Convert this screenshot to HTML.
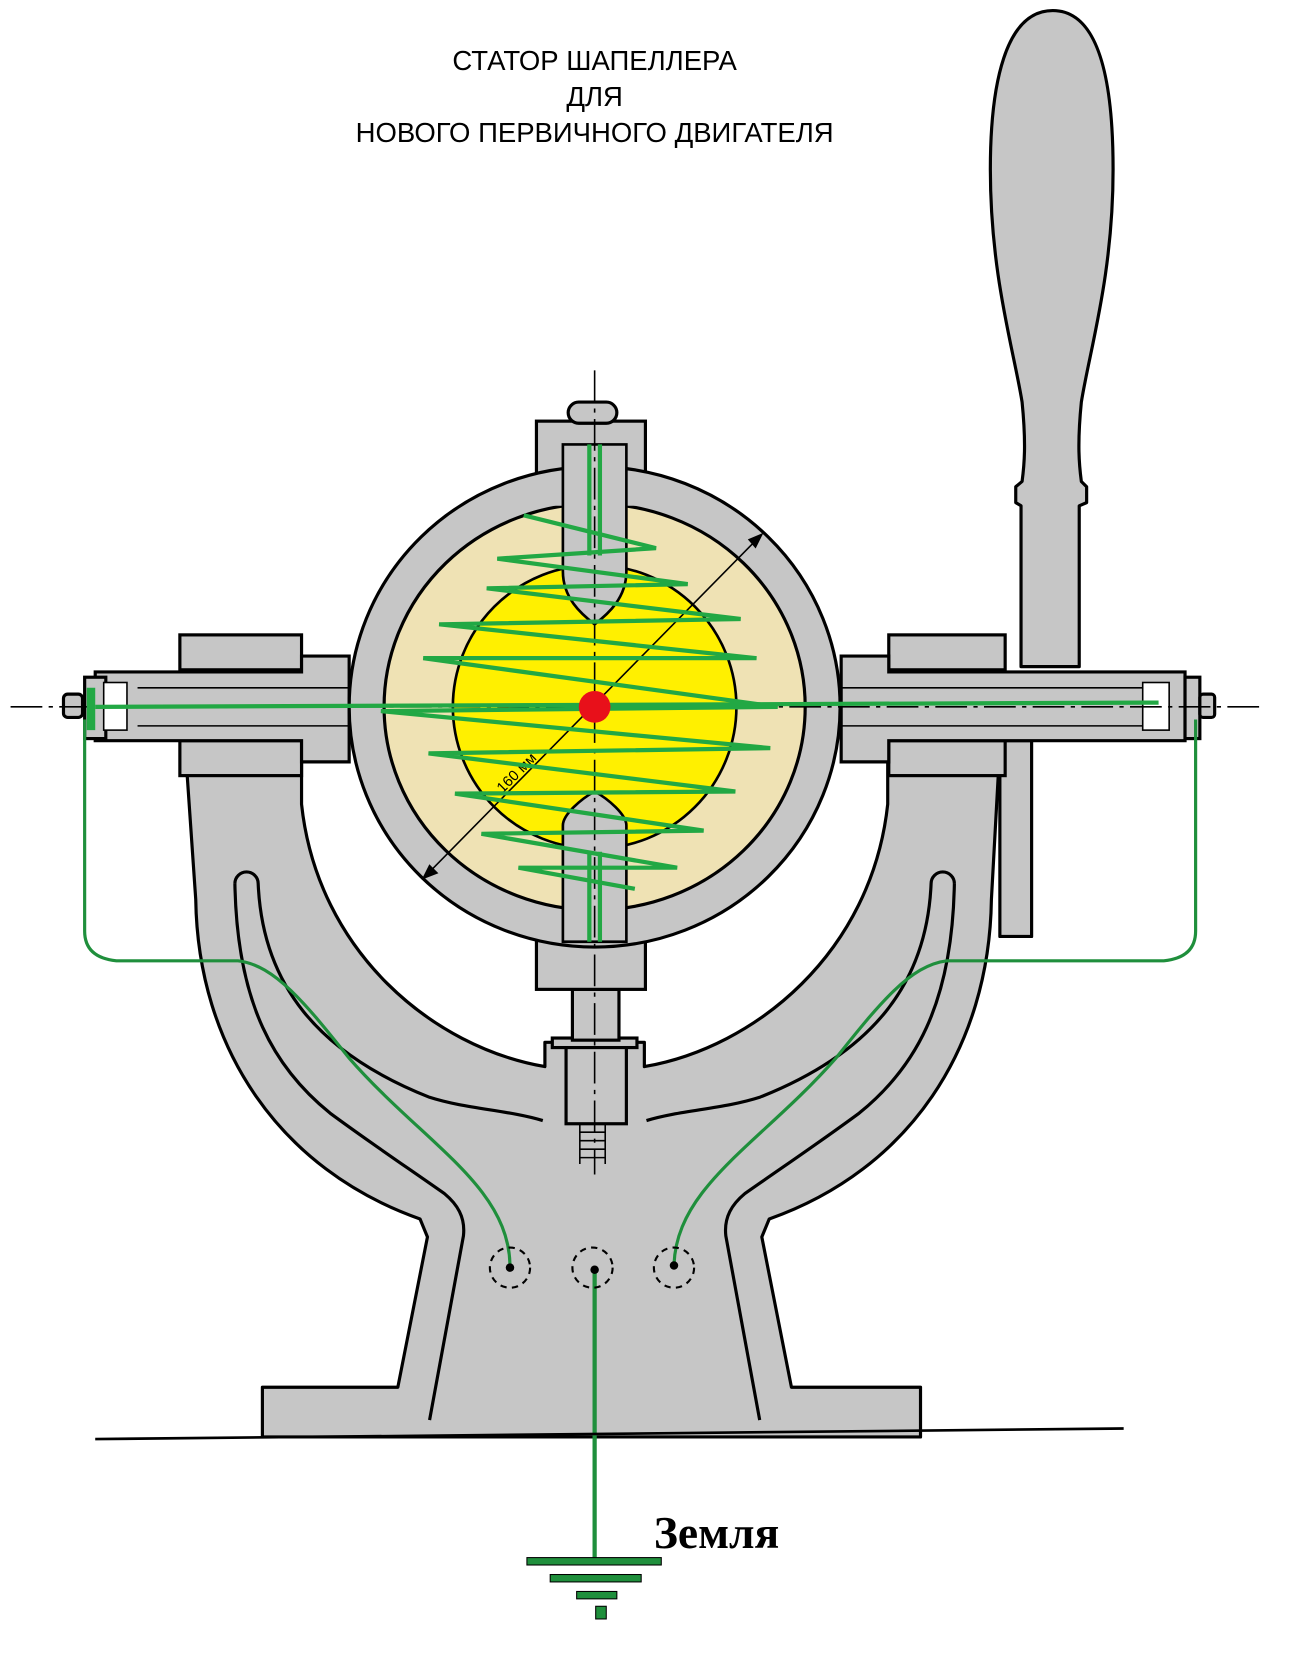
<!DOCTYPE html>
<html><head><meta charset="utf-8"><style>
html,body{margin:0;padding:0;background:#fff;}
svg{display:block;}
</style></head><body>
<svg width="1312" height="1656" viewBox="0 0 1240 1565" preserveAspectRatio="none" xmlns="http://www.w3.org/2000/svg">
<rect width="1240" height="1565" fill="#fff"/>
<g font-family="Liberation Sans, sans-serif" font-size="26" text-anchor="middle" fill="#000">
<text x="562" y="66">СТАТОР ШАПЕЛЛЕРА</text>
<text x="562" y="100">ДЛЯ</text>
<text x="562" y="134">НОВОГО ПЕРВИЧНОГО ДВИГАТЕЛЯ</text>
</g>
<g stroke="#000" stroke-width="3" fill="#c6c6c6" stroke-linejoin="round">
<!-- handle -->
<path d="M995,10 C1040,10 1052,80 1052,160 C1052,260 1030,330 1022,380 C1018,420 1020,440 1022,455 L1027,460 L1027,475 L1020,478 L1020,630 L965,630 L965,478 L960,475 L960,460 L966,455 C968,440 970,420 966,380 C958,330 936,260 936,160 C936,80 950,10 995,10 Z"/>
<!-- base -->
<path d="M175,705 H285 V760 C300,900 410,990 515,1008 V985 H609 V1008 C714,990 824,900 839,760 V705 H945 L937,850 C935,990 860,1105 727,1152 L720,1169 L748,1311 H870 V1358 H248 V1311 H376 L404,1169 L397,1152 C264,1105 187,990 185,850 Z"/>
<!-- right vertical plate -->
<path d="M945,700 H975 V885 H945 Z"/>
</g>
<!-- slot/leg lines -->
<g fill="none" stroke="#000" stroke-width="3">
<path d="M222,835 A11,11 0 0 1 244,835 C248,930 300,995 406,1037 C440,1048 480,1049 513,1059"/>
<path d="M222,835 C224,950 260,1010 312,1052 C350,1080 380,1100 420,1128 C432,1138 440,1150 438,1168 L406,1342"/>
<path d="M902,835 A11,11 0 0 0 880,835 C876,930 824,995 718,1037 C684,1048 644,1049 611,1059"/>
<path d="M902,835 C900,950 864,1010 812,1052 C774,1080 744,1100 704,1128 C692,1138 684,1150 686,1168 L718,1342"/>
</g>
<g stroke="#000" stroke-width="3" fill="#c6c6c6">
<!-- hub -->
<rect x="535" y="989" width="57" height="73"/>
<rect x="522" y="981" width="80" height="9"/>
<rect x="541" y="935" width="44" height="48"/>
<!-- shaft assemblies -->
<rect x="170" y="600" width="115" height="33"/>
<rect x="840" y="600" width="110" height="33"/>
<rect x="170" y="700" width="115" height="33"/>
<rect x="840" y="700" width="110" height="33"/>
<path d="M90,635 H285 V620 H330 V720 H285 V700 H90 Z"/>
<path d="M795,620 H840 V635 H1120 V700 H840 V720 H795 Z"/>
<rect x="80" y="640" width="20" height="58"/>
<rect x="1120" y="640" width="14" height="58"/>
<rect x="60" y="656" width="18" height="22" rx="4"/>
<rect x="1134" y="656" width="14" height="22" rx="3"/>
<!-- sphere casing -->
<rect x="507" y="398" width="103" height="50"/>
<rect x="507" y="885" width="103" height="50"/>
<ellipse cx="562" cy="668" rx="232" ry="227"/>
<rect x="537" y="380" width="46" height="20" rx="10"/>
</g>
<g stroke="#000" stroke-width="1.5" fill="none">
<line x1="130" y1="650" x2="330" y2="650"/><line x1="130" y1="686" x2="330" y2="686"/>
<line x1="795" y1="650" x2="1080" y2="650"/><line x1="795" y1="686" x2="1080" y2="686"/>
<rect x="1080" y="645" width="25" height="45" fill="#fff"/>
<rect x="98" y="645" width="22" height="45" fill="#fff"/>
<path d="M548,1062 V1100 M572,1062 V1100 M548,1070 H572 M548,1078 H572 M548,1086 H572 M548,1094 H572"/>
</g>
<!-- beige interior -->
<clipPath id="cl"><rect x="300" y="478" width="530" height="384"/></clipPath>
<ellipse cx="562" cy="668" rx="199" ry="192" fill="#efe2b4" stroke="#000" stroke-width="3" clip-path="url(#cl)"/>
<circle cx="562" cy="668" r="134" fill="#fff000" stroke="#000" stroke-width="2.5"/>
<!-- electrodes -->
<g fill="#c6c6c6" stroke="#000" stroke-width="2.5">
<path d="M532,420 H592 V540 C592,565 575,580 562,590 C549,580 532,565 532,540 Z"/>
<path d="M532,890 H592 V780 C592,770 575,755 562,748 C549,755 532,770 532,780 Z"/>
</g>
<!-- axes -->
<g stroke="#000" stroke-width="1.5" fill="none">
<line x1="10" y1="668" x2="1195" y2="668" stroke-dasharray="30 6 4 6"/>
<line x1="562" y1="350" x2="562" y2="1110" stroke-dasharray="30 6 4 6"/>
<line x1="400" y1="830" x2="720" y2="505"/>
<path d="M720,505 L708,510 L714,517 Z" fill="#000"/>
<path d="M400,830 L413,825 L406,818 Z" fill="#000"/>
</g>
<text x="0" y="0" font-family="Liberation Sans, sans-serif" font-size="14" transform="translate(475,750) rotate(-45)">160 мм</text>
<!-- green coil -->
<g stroke="#22a844" fill="none" stroke-width="4" stroke-linejoin="miter">
<polyline points="495,487 620,518 470,528 650,552 460,556 700,585 415,590 715,622 400,622 735,668 360,672 728,707 405,712 695,748 430,750 665,785 455,788 640,820 490,820 600,840"/>
<line x1="90" y1="668" x2="1095" y2="664"/>
<line x1="557" y1="420" x2="557" y2="525"/><line x1="567" y1="420" x2="567" y2="525"/>
<line x1="557" y1="805" x2="557" y2="890"/><line x1="567" y1="805" x2="567" y2="890"/>
<path d="M86,650 V690" stroke-width="8"/>
</g>
<g stroke="#1f8f3c" fill="none" stroke-width="3">
<path d="M80,680 V880 Q80,905 110,908 H225 C260,912 290,950 330,1000 C400,1080 480,1120 482,1195"/>
<path d="M1130,680 V880 Q1130,905 1100,908 H895 C860,912 830,950 790,1000 C720,1080 640,1120 637,1195"/>
<path d="M562,1200 V1475" stroke-width="4"/>
</g>
<circle cx="562" cy="668" r="15" fill="#e8101a"/>
<!-- holes -->
<g fill="none" stroke="#000" stroke-width="2" stroke-dasharray="6 5">
<circle cx="482" cy="1198" r="19"/><circle cx="560" cy="1198" r="19"/><circle cx="637" cy="1198" r="19"/>
</g>
<g fill="#000"><circle cx="482" cy="1198" r="4"/><circle cx="562" cy="1200" r="4"/><circle cx="637" cy="1196" r="4"/></g>
<!-- ground line -->
<line x1="90" y1="1360" x2="1062" y2="1350" stroke="#000" stroke-width="2.5"/>
<g fill="#1f8f3c" stroke="#000" stroke-width="1">
<rect x="498" y="1472" width="127" height="7"/>
<rect x="520" y="1488" width="86" height="7"/>
<rect x="545" y="1504" width="38" height="7"/>
<rect x="563" y="1518" width="10" height="12"/>
</g>
<text x="618" y="1463" font-family="Liberation Serif, serif" font-weight="bold" font-size="43" fill="#000">Земля</text>
</svg>
</body></html>
